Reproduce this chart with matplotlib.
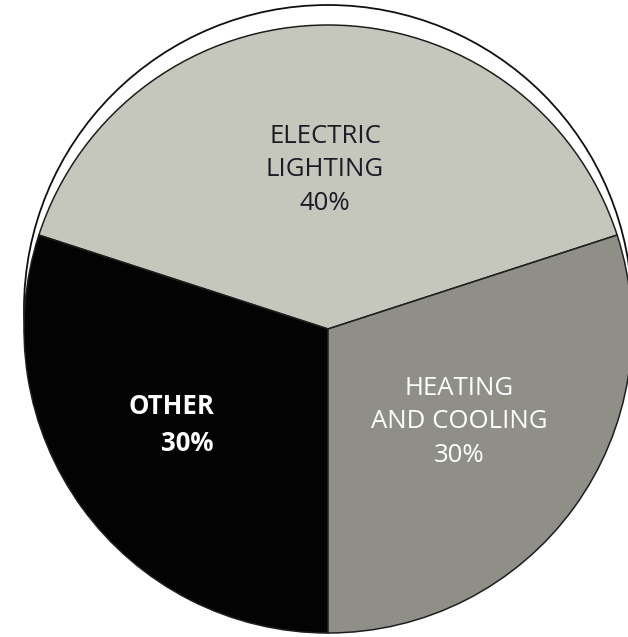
import matplotlib
matplotlib.use("Agg")
import matplotlib.pyplot as plt
from matplotlib.patches import Circle

plt.rcParams['font.family'] = ['Open Sans', 'DejaVu Sans']

# Data
categories = ["ELECTRIC\nLIGHTING", "OTHER", "HEATING\nAND COOLING"]
shares = [40, 30, 30]
colors = ["#c5c6bc", "#030303", "#8f8f88"]
text_colors = ["#1c1c28", "white", "white"]

W, H = 628, 637
fig = plt.figure(figsize=(W / 100, H / 100), dpi=100)
ax = fig.add_axes([0, 0, 1, 1])


def py(y):
    return H - y

cx, cy, r = 328, 329, 304

# outer offset outline (drawn behind the pie)
ax.add_patch(Circle((cx, py(cy - 20)), r, fill=False, edgecolor="#111111",
                    linewidth=1.3, zorder=0))

ax.pie(shares, colors=colors, startangle=18, counterclock=True,
       center=(cx, py(cy)), radius=r, frame=True,
       wedgeprops=dict(edgecolor="#1e1e1e", linewidth=1.1))

ax.set_xlim(0, W)
ax.set_ylim(0, H)
ax.set_aspect("auto")
ax.axis("off")

fs = 18.5
ls = 1.43
# Electric lighting
ax.text(325, py(170), f"{categories[0]}\n{shares[0]}%", ha="center", va="center",
        multialignment="center", fontsize=fs, color=text_colors[0],
        linespacing=ls)
# Heating and cooling
ax.text(459, py(422), f"{categories[2]}\n{shares[2]}%", ha="center", va="center",
        multialignment="center", fontsize=fs, color=text_colors[2],
        linespacing=ls)
# Other
ax.text(214, py(425), f"{categories[1]}\n{shares[1]}%", ha="right", va="center",
        multialignment="right", fontsize=fs, color=text_colors[1],
        fontweight="bold", linespacing=ls)

fig.savefig("out.png", dpi=100, facecolor="white")
